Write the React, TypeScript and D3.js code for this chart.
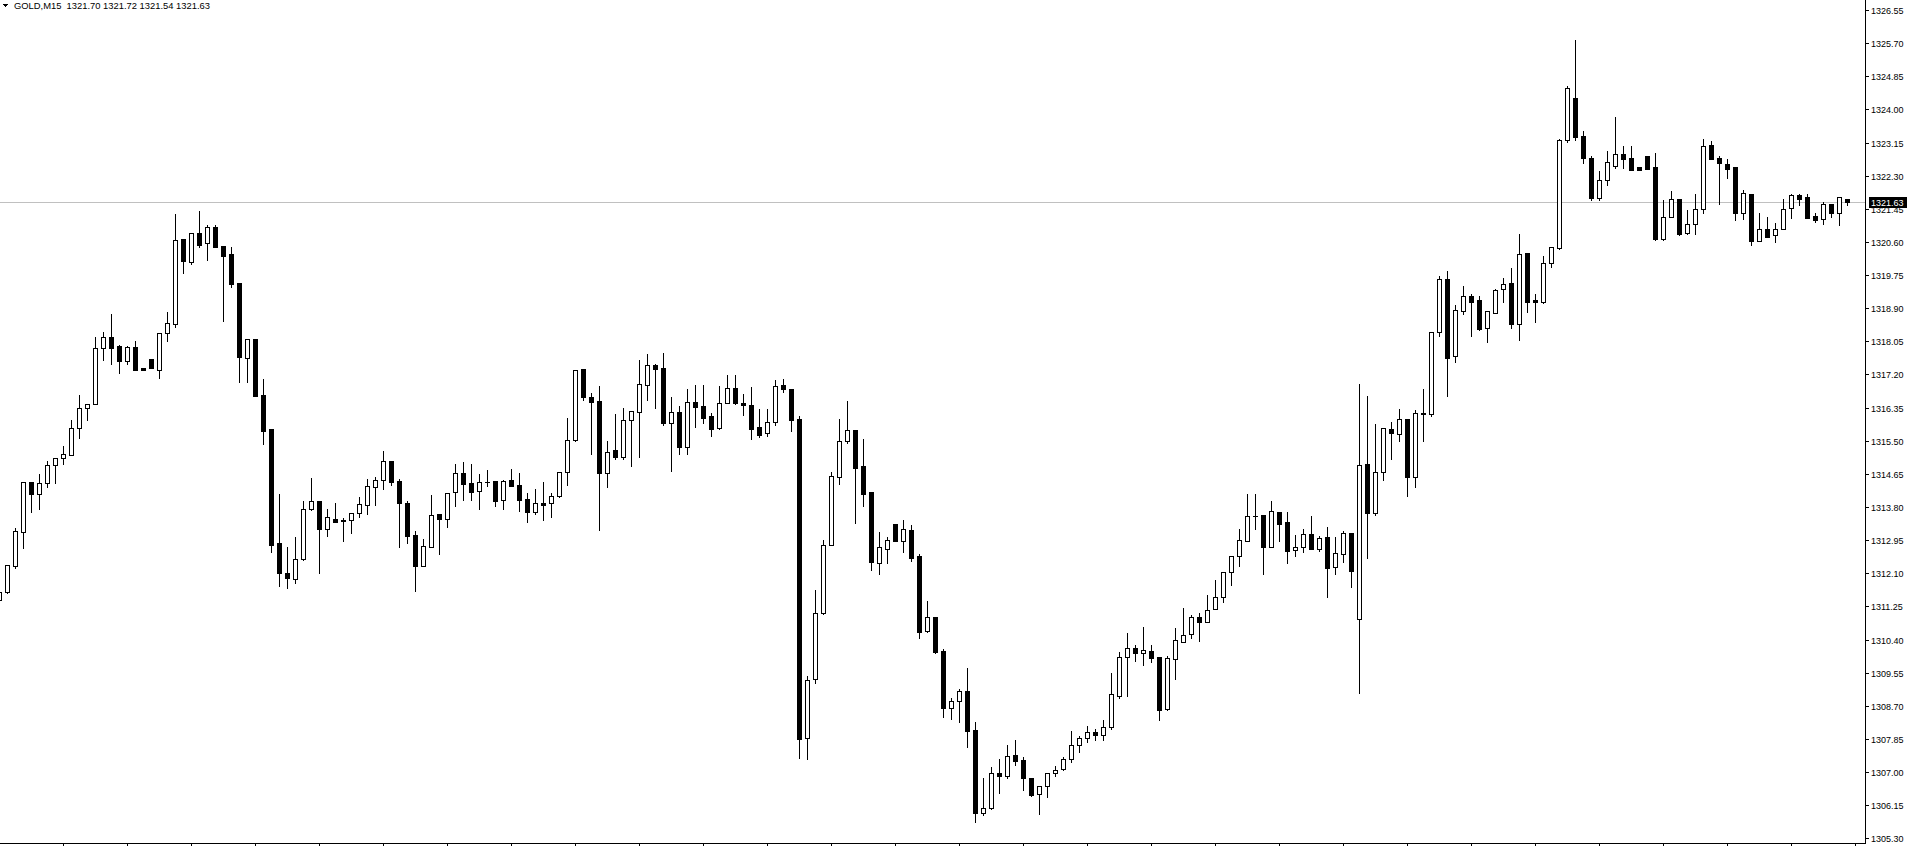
import React from "react";
import * as d3 from "d3";

const symbolTitle = "GOLD,M15";
const lastOHLC = ["1321.70", "1321.72", "1321.54", "1321.63"];
const bidPrice = 1321.63;

const priceTicks = [
  1326.55, 1325.70, 1324.85, 1324.00, 1323.15, 1322.30, 1321.45, 1320.60, 1319.75,
  1318.90, 1318.05, 1317.20, 1316.35, 1315.50, 1314.65, 1313.80, 1312.95, 1312.10,
  1311.25, 1310.40, 1309.55, 1308.70, 1307.85, 1307.00, 1306.15, 1305.30,
];

const openP = [
  1311.41, 1311.61, 1312.29, 1313.15, 1314.43, 1314.13, 1314.41, 1314.88, 1315.05, 1315.13,
  1315.82, 1316.33, 1316.44, 1317.89, 1318.15, 1317.92, 1317.55, 1317.90, 1317.36, 1317.60,
  1317.32, 1318.26, 1318.49, 1320.68, 1320.09, 1320.82, 1320.56, 1320.98, 1320.49, 1320.29,
  1319.55, 1317.63, 1318.11, 1316.67, 1315.80, 1312.87, 1312.10, 1311.96, 1312.47, 1313.75,
  1313.95, 1313.24, 1313.48, 1313.46, 1313.46, 1313.64, 1313.84, 1314.31, 1314.49, 1314.97,
  1314.47, 1313.90, 1313.07, 1312.29, 1312.78, 1313.62, 1313.48, 1314.18, 1314.67, 1314.41,
  1314.22, 1314.45, 1314.46, 1313.99, 1314.49, 1314.37, 1314.00, 1313.68, 1313.90, 1313.89,
  1314.07, 1314.69, 1315.52, 1317.33, 1316.61, 1316.51, 1314.67, 1315.26, 1315.07, 1316.02,
  1316.23, 1316.92, 1317.44, 1317.36, 1315.95, 1316.23, 1315.35, 1316.49, 1316.38, 1316.13,
  1315.83, 1316.48, 1316.85, 1316.46, 1316.41, 1315.84, 1315.69, 1315.99, 1316.93, 1316.82,
  1316.05, 1307.88, 1309.38, 1311.07, 1312.83, 1314.58, 1315.50, 1315.78, 1314.85, 1314.19,
  1312.37, 1312.73, 1313.37, 1312.92, 1313.21, 1312.54, 1310.61, 1310.97, 1310.11, 1308.64,
  1308.83, 1309.08, 1308.08, 1305.96, 1306.07, 1306.97, 1306.91, 1307.44, 1307.31, 1306.85,
  1306.43, 1306.65, 1306.97, 1307.07, 1307.34, 1307.70, 1307.88, 1308.03, 1307.95, 1308.16,
  1308.96, 1309.96, 1310.17, 1310.06, 1310.11, 1309.94, 1308.62, 1309.89, 1310.34, 1310.53,
  1310.98, 1310.86, 1311.18, 1311.50, 1312.14, 1312.53, 1312.94, 1313.57, 1313.60, 1312.78,
  1313.67, 1313.42, 1312.69, 1312.77, 1313.11, 1312.71, 1313.03, 1312.25, 1312.59, 1313.13,
  1310.92, 1314.90, 1313.65, 1314.71, 1315.79, 1315.68, 1316.05, 1314.56, 1316.19, 1316.19,
  1318.30, 1319.64, 1317.67, 1318.82, 1319.21, 1319.11, 1318.38, 1318.78, 1319.38, 1319.54,
  1318.49, 1320.31, 1319.11, 1319.07, 1320.05, 1320.44, 1323.21, 1324.29, 1323.32, 1322.75,
  1321.73, 1322.19, 1322.56, 1322.85, 1322.75, 1322.52, 1322.80, 1322.52, 1320.67, 1321.25,
  1321.69, 1320.82, 1321.05, 1321.44, 1323.08, 1322.75, 1322.59, 1322.52, 1321.33, 1321.82,
  1320.63, 1320.94, 1320.77, 1320.94, 1321.46, 1321.80, 1321.75, 1321.26, 1321.18, 1321.57,
  1321.33, 1321.70,
];

const highP = [
  1311.72, 1312.31, 1313.29, 1314.47, 1314.44, 1314.67, 1315.01, 1315.05, 1315.39, 1316.06,
  1316.70, 1316.44, 1318.19, 1318.31, 1318.77, 1317.98, 1317.96, 1318.08, 1317.36, 1317.60,
  1318.26, 1318.83, 1321.34, 1320.69, 1320.85, 1321.41, 1321.06, 1321.06, 1320.49, 1320.49,
  1319.55, 1318.11, 1318.14, 1317.10, 1315.80, 1314.15, 1312.80, 1313.06, 1313.98, 1314.58,
  1313.95, 1313.77, 1313.93, 1313.55, 1313.67, 1314.09, 1314.54, 1314.60, 1315.26, 1314.97,
  1314.54, 1313.98, 1313.21, 1313.00, 1314.13, 1313.62, 1314.18, 1314.92, 1314.98, 1314.92,
  1314.67, 1314.78, 1314.46, 1314.52, 1314.80, 1314.70, 1314.19, 1314.29, 1314.47, 1314.18,
  1314.69, 1316.11, 1317.34, 1317.36, 1316.74, 1316.93, 1315.52, 1316.20, 1316.36, 1316.25,
  1317.59, 1317.74, 1317.49, 1317.78, 1316.65, 1316.42, 1316.85, 1316.96, 1316.96, 1316.23,
  1316.92, 1317.21, 1317.21, 1316.72, 1316.90, 1316.34, 1316.34, 1317.08, 1317.10, 1316.82,
  1316.16, 1309.49, 1311.69, 1312.98, 1314.72, 1316.09, 1316.55, 1315.78, 1315.57, 1314.19,
  1313.18, 1313.06, 1313.37, 1313.49, 1313.37, 1312.61, 1311.41, 1311.00, 1310.18, 1308.93,
  1309.16, 1309.70, 1308.31, 1306.88, 1307.16, 1307.35, 1307.72, 1307.85, 1307.41, 1306.88,
  1306.65, 1306.97, 1307.18, 1307.41, 1308.08, 1307.95, 1308.21, 1308.13, 1308.35, 1309.57,
  1310.11, 1310.59, 1310.28, 1310.75, 1310.28, 1309.94, 1310.00, 1310.72, 1311.23, 1311.05,
  1311.11, 1311.57, 1311.95, 1312.16, 1312.54, 1313.26, 1314.15, 1314.15, 1313.60, 1313.98,
  1313.69, 1313.70, 1313.11, 1313.26, 1313.60, 1313.08, 1313.31, 1313.06, 1313.21, 1313.13,
  1316.97, 1316.67, 1315.95, 1315.82, 1316.01, 1316.33, 1316.05, 1316.31, 1316.84, 1318.28,
  1319.75, 1319.88, 1319.00, 1319.50, 1319.28, 1319.23, 1318.82, 1319.41, 1319.69, 1319.95,
  1320.82, 1320.35, 1319.28, 1320.26, 1320.49, 1323.27, 1324.63, 1325.81, 1323.47, 1322.83,
  1322.45, 1322.96, 1323.83, 1323.09, 1323.09, 1322.52, 1322.80, 1322.91, 1321.69, 1321.93,
  1321.69, 1321.44, 1321.85, 1323.26, 1323.22, 1322.82, 1322.75, 1322.52, 1321.95, 1321.82,
  1321.36, 1321.27, 1321.10, 1321.72, 1321.85, 1321.85, 1321.85, 1321.36, 1321.66, 1321.57,
  1321.78, 1321.72,
];

const lowP = [
  1311.36, 1311.59, 1312.24, 1312.76, 1313.68, 1313.74, 1314.32, 1314.42, 1314.90, 1315.13,
  1315.56, 1316.03, 1316.44, 1317.57, 1317.48, 1317.25, 1317.48, 1317.32, 1317.32, 1317.37,
  1317.12, 1318.06, 1318.43, 1319.81, 1320.03, 1320.48, 1320.14, 1320.46, 1318.57, 1319.45,
  1317.01, 1317.01, 1316.65, 1315.42, 1312.65, 1311.76, 1311.73, 1311.86, 1312.44, 1313.72,
  1312.11, 1313.06, 1313.42, 1312.94, 1313.14, 1313.55, 1313.62, 1313.86, 1314.27, 1314.37,
  1312.78, 1312.87, 1311.65, 1312.29, 1312.77, 1312.60, 1313.29, 1313.83, 1313.98, 1313.98,
  1313.76, 1314.34, 1313.83, 1313.76, 1314.35, 1313.70, 1313.42, 1313.63, 1313.47, 1313.55,
  1314.06, 1314.37, 1315.50, 1316.55, 1315.17, 1313.21, 1314.32, 1315.03, 1315.04, 1314.86,
  1315.09, 1316.55, 1316.35, 1315.91, 1314.73, 1315.17, 1315.17, 1315.85, 1315.96, 1315.63,
  1315.80, 1316.46, 1316.44, 1316.16, 1315.55, 1315.60, 1315.62, 1315.91, 1316.76, 1315.76,
  1307.35, 1307.33, 1309.29, 1311.06, 1312.82, 1314.40, 1315.45, 1313.40, 1313.83, 1312.18,
  1312.07, 1312.37, 1312.94, 1312.65, 1312.42, 1310.45, 1310.60, 1310.05, 1308.42, 1308.37,
  1308.29, 1307.63, 1305.73, 1305.90, 1306.06, 1306.45, 1306.84, 1307.18, 1306.54, 1306.39,
  1305.93, 1306.37, 1306.90, 1307.05, 1307.26, 1307.52, 1307.77, 1307.82, 1307.82, 1308.11,
  1308.89, 1308.96, 1309.85, 1309.75, 1309.83, 1308.34, 1308.59, 1309.39, 1310.33, 1310.45,
  1310.37, 1310.85, 1311.17, 1311.37, 1311.80, 1312.29, 1312.93, 1313.24, 1312.08, 1312.77,
  1312.93, 1312.37, 1312.54, 1312.65, 1312.73, 1312.67, 1311.50, 1312.08, 1312.40, 1311.75,
  1309.04, 1312.48, 1313.60, 1314.48, 1315.04, 1315.48, 1314.08, 1314.31, 1315.50, 1316.13,
  1318.19, 1316.65, 1317.52, 1318.75, 1318.19, 1318.34, 1318.02, 1318.77, 1319.06, 1318.40,
  1318.08, 1318.81, 1318.55, 1319.04, 1319.96, 1320.42, 1323.16, 1323.21, 1322.63, 1321.68,
  1321.68, 1322.06, 1322.49, 1322.50, 1322.45, 1322.45, 1322.48, 1320.65, 1320.66, 1321.24,
  1320.78, 1320.81, 1320.80, 1321.33, 1322.72, 1321.57, 1322.25, 1321.15, 1321.20, 1320.52,
  1320.62, 1320.72, 1320.61, 1320.93, 1321.22, 1321.54, 1321.22, 1321.10, 1321.06, 1321.25,
  1321.04, 1321.54,
];

const closeP = [
  1311.63, 1312.31, 1313.18, 1314.45, 1314.14, 1314.41, 1314.88, 1315.05, 1315.16, 1315.82,
  1316.33, 1316.44, 1317.87, 1318.17, 1317.89, 1317.55, 1317.90, 1317.32, 1317.32, 1317.37,
  1318.26, 1318.51, 1320.65, 1320.12, 1320.82, 1320.53, 1320.98, 1320.47, 1320.24, 1319.52,
  1317.66, 1318.11, 1316.66, 1315.76, 1312.83, 1312.11, 1311.99, 1312.46, 1313.74, 1313.95,
  1313.24, 1313.54, 1313.42, 1313.45, 1313.64, 1313.87, 1314.33, 1314.49, 1314.97, 1314.45,
  1313.89, 1313.06, 1312.29, 1312.79, 1313.59, 1313.50, 1314.15, 1314.67, 1314.40, 1314.19,
  1314.43, 1314.45, 1313.96, 1314.46, 1314.35, 1313.98, 1313.68, 1313.90, 1313.86, 1314.07,
  1314.69, 1315.51, 1317.31, 1316.63, 1316.50, 1314.67, 1315.20, 1315.08, 1316.02, 1316.25,
  1316.95, 1317.44, 1317.35, 1315.96, 1316.23, 1315.35, 1316.49, 1316.37, 1316.09, 1315.81,
  1316.46, 1316.85, 1316.48, 1316.42, 1315.81, 1315.65, 1315.99, 1316.90, 1316.83, 1316.03,
  1307.86, 1309.36, 1311.07, 1312.83, 1314.60, 1315.50, 1315.77, 1314.81, 1314.14, 1312.40,
  1312.77, 1312.95, 1312.94, 1313.23, 1312.50, 1310.58, 1310.97, 1310.09, 1308.65, 1308.82,
  1309.08, 1308.06, 1305.96, 1306.08, 1306.97, 1306.91, 1307.41, 1307.29, 1306.84, 1306.41,
  1306.65, 1306.97, 1307.05, 1307.33, 1307.70, 1307.88, 1308.03, 1307.95, 1308.16, 1309.00,
  1309.94, 1310.17, 1310.06, 1310.12, 1309.93, 1308.59, 1309.92, 1310.38, 1310.51, 1310.98,
  1310.86, 1311.16, 1311.48, 1312.14, 1312.54, 1312.95, 1313.57, 1313.58, 1312.78, 1313.69,
  1313.37, 1312.68, 1312.77, 1313.10, 1312.73, 1313.00, 1312.24, 1312.61, 1313.13, 1312.17,
  1314.87, 1313.65, 1314.69, 1315.82, 1315.71, 1316.05, 1314.56, 1316.20, 1316.20, 1318.28,
  1319.64, 1317.63, 1318.85, 1319.21, 1319.07, 1318.37, 1318.82, 1319.37, 1319.51, 1318.50,
  1320.28, 1319.07, 1319.05, 1320.05, 1320.46, 1323.21, 1324.55, 1323.29, 1322.75, 1321.73,
  1322.19, 1322.65, 1322.85, 1322.73, 1322.45, 1322.45, 1322.48, 1320.68, 1321.25, 1321.69,
  1320.81, 1321.05, 1321.44, 1323.05, 1322.74, 1322.62, 1322.48, 1321.33, 1321.85, 1320.63,
  1320.94, 1320.73, 1320.92, 1321.44, 1321.80, 1321.71, 1321.22, 1321.15, 1321.57, 1321.35,
  1321.75, 1321.63,
];

const W = 1907;
const H = 846;
const AXIS_X = 1865;
const AXIS_Y = 843;
const FONT = "'Liberation Sans', Arial, sans-serif";

export default function App() {
  const n = openP.length;
  const x = d3.scaleLinear().domain([0, n - 1]).range([-0.5, -0.5 + 8 * (n - 1)]);
  const y = d3.scaleLinear().domain([1305.3, 1326.55]).range([838.3, 10]);
  const py = (p: number) => Math.round(y(p)) + 0.5;

  const candles = d3.range(n).map((i) => {
    const o = openP[i], c = closeP[i], h = highP[i], l = lowP[i];
    const cx = x(i);
    const top = py(Math.max(o, c));
    const bot = py(Math.min(o, c));
    const bull = c >= o;
    return (
      <g key={i}>
        <line x1={cx} x2={cx} y1={py(h)} y2={py(l)} stroke="#000" strokeWidth={1} />
        {bot - top < 1 ? (
          <line x1={cx - 2.5} x2={cx + 2.5} y1={top} y2={top} stroke="#000" strokeWidth={1} />
        ) : (
          <rect
            x={cx - 2}
            y={top}
            width={4}
            height={bot - top}
            fill={bull ? "#fff" : "#000"}
            stroke="#000"
            strokeWidth={1}
          />
        )}
      </g>
    );
  });

  const timeTicks = d3.range(8, n + 8, 8).filter((i) => x(i) < AXIS_X);
  const bidY = py(bidPrice);

  return (
    <svg
      width={W}
      height={H}
      style={{ position: "absolute", left: 0, top: 0, background: "#fff" }}
      shapeRendering="crispEdges"
    >
      <rect x={0} y={0} width={W} height={H} fill="#fff" />
      <line x1={0} x2={AXIS_X} y1={bidY} y2={bidY} stroke="#c0c0c0" strokeWidth={1} />
      {candles}
      {/* axes */}
      <line x1={AXIS_X + 0.5} x2={AXIS_X + 0.5} y1={0} y2={AXIS_Y + 1} stroke="#000" strokeWidth={1} />
      <line x1={0} x2={AXIS_X + 1} y1={AXIS_Y + 0.5} y2={AXIS_Y + 0.5} stroke="#000" strokeWidth={1} />
      {priceTicks.map((t) => (
        <g key={t}>
          <line x1={AXIS_X} x2={AXIS_X + 4} y1={py(t)} y2={py(t)} stroke="#000" strokeWidth={1} />
          <text
            x={AXIS_X + 6}
            y={Math.round(y(t)) + 3.5}
            fontFamily={FONT}
            fontSize={9}
            fill="#000"
            shapeRendering="auto"
          >
            {t.toFixed(2)}
          </text>
        </g>
      ))}
      {timeTicks.map((i) => (
        <line key={i} x1={x(i)} x2={x(i)} y1={AXIS_Y} y2={H} stroke="#000" strokeWidth={1} />
      ))}
      {/* bid label */}
      <rect x={AXIS_X + 4} y={bidY - 5.5} width={38} height={11} fill="#000" />
      <text x={AXIS_X + 6} y={bidY + 3} fontFamily={FONT} fontSize={9} fill="#fff">
        {bidPrice.toFixed(2)}
      </text>
      {/* title */}
      <path d="M3,4 L8,4 L5.5,7 Z" fill="#000" />
      <text x={14} y={9} fontFamily={FONT} fontSize={9.4} fill="#000" style={{ whiteSpace: "pre" }}>
        {symbolTitle + "  " + lastOHLC.join(" ")}
      </text>
    </svg>
  );
}
